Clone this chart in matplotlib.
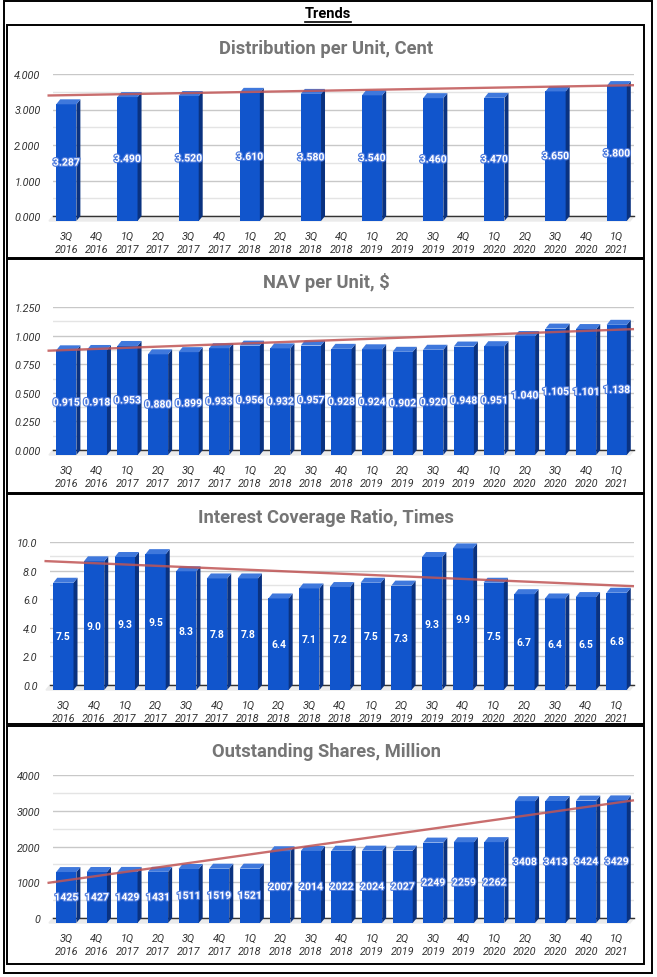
import matplotlib
matplotlib.use('Agg')
import matplotlib.pyplot as plt
import matplotlib.patheffects as pe
from matplotlib.patches import Polygon, Rectangle
import numpy as np

plt.rcParams['font.family'] = ['Roboto', 'DejaVu Sans']

# ---- data ----
quarters = ['3Q\n2016', '4Q\n2016', '1Q\n2017', '2Q\n2017', '3Q\n2017', '4Q\n2017',
            '1Q\n2018', '2Q\n2018', '3Q\n2018', '4Q\n2018', '1Q\n2019', '2Q\n2019',
            '3Q\n2019', '4Q\n2019', '1Q\n2020', '2Q\n2020', '3Q\n2020', '4Q\n2020',
            '1Q\n2021']

dpu_quarters = ['3Q\n2016', '1Q\n2017', '3Q\n2017', '1Q\n2018', '3Q\n2018',
                '1Q\n2019', '3Q\n2019', '1Q\n2020', '3Q\n2020', '1Q\n2021']
dpu = [3.287, 3.490, 3.520, 3.610, 3.580, 3.540, 3.460, 3.470, 3.650, 3.800]

nav = [0.915, 0.918, 0.953, 0.880, 0.899, 0.933, 0.956, 0.932, 0.957, 0.928,
       0.924, 0.902, 0.920, 0.948, 0.951, 1.040, 1.105, 1.101, 1.138]

icr = [7.5, 9.0, 9.3, 9.5, 8.3, 7.8, 7.8, 6.4, 7.1, 7.2,
       7.5, 7.3, 9.3, 9.9, 7.5, 6.7, 6.4, 6.5, 6.8]

shares = [1425, 1427, 1429, 1431, 1511, 1519, 1521, 2007, 2014, 2022,
          2024, 2027, 2249, 2259, 2262, 3408, 3413, 3424, 3429]

# ---- style ----
W, H = 657, 978
front_c = '#1155cc'
side_c = '#0a3280'
top_c = '#3f78dc'
trend_c = '#c05555'
title_c = '#757575'
bar_w = 0.66
right_px = 634

fig = plt.figure(figsize=(W / 100, H / 100), dpi=100)


def fx(px):
    return px / W


def fy(py):
    return 1 - py / H


def box(x0, y0, x1, y1, lw=1.4):
    fig.add_artist(Rectangle((fx(x0), fy(y1)), fx(x1 - x0), (y1 - y0) / H,
                             fill=False, edgecolor='black', linewidth=lw,
                             transform=fig.transFigure))


def draw_panel(title, title_y, box_y, left, top, bottom, xs, vals,
               ymax, major, fmt, halo):
    ax = fig.add_axes([fx(left), fy(bottom), fx(right_px - left), (bottom - top) / H])
    ax.set_xlim(-0.5, 18.5)
    ax.set_ylim(0, ymax)
    for s in ax.spines.values():
        s.set_visible(False)

    # gridlines, major + minor
    for y in np.arange(major / 2, ymax + 1e-9, major / 2):
        is_major = abs((y / major) - round(y / major)) < 1e-6
        ax.axhline(y, color='#c8c8c8' if is_major else '#e4e4e4', lw=1, zorder=0)

    # 3d offsets (px -> data)
    ox = 4 * 19 / (right_px - left)
    oy = 5 * ymax / (bottom - top)

    ax.add_patch(Polygon([(-0.5, 0), (18.5, 0), (18.5 - ox, -oy), (-0.5 - ox, -oy)],
                         closed=True, color='#ebebeb', clip_on=False, zorder=1))
    ax.plot([-0.5, 18.5], [0, 0], color='#333333', lw=1, zorder=1.5, clip_on=False)

    for x, v in zip(xs, vals):
        xb = x + ox / 2
        xl, xr = xb - bar_w / 2, xb + bar_w / 2
        ax.add_patch(Rectangle((xl - ox, -oy), bar_w, v, color=front_c,
                               clip_on=False, zorder=2, lw=0))
        ax.add_patch(Polygon([(xr - ox, -oy), (xr, 0), (xr, v), (xr - ox, v - oy)],
                             closed=True, color=side_c, clip_on=False, zorder=2, lw=0))
        ax.add_patch(Polygon([(xl - ox, v - oy), (xr - ox, v - oy), (xr, v), (xl, v)],
                             closed=True, color=top_c, clip_on=False, zorder=2, lw=0))
        t = ax.text(xb - ox, v / 2 - oy, fmt(v), color='white', ha='center',
                    va='center', fontsize=7.5, fontweight='bold', zorder=4)
        if halo:
            t.set_path_effects([pe.withStroke(linewidth=1.6, foreground='#4a78dc')])

    # linear trend line
    k, b = np.polyfit(xs, vals, 1)
    xt = np.array([-0.68, 18.5])
    ax.plot(xt, k * xt + b, color=trend_c, lw=1.7, alpha=0.85, zorder=3,
            clip_on=False, solid_capstyle='butt')

    yt = np.arange(0, ymax + 1e-9, major)
    ax.set_yticks(yt)
    ax.set_yticklabels([fmt(v) for v in yt], fontsize=7.8, style='italic', color='#333333')
    ax.set_xticks(np.arange(19) - ox / 2)
    ax.set_xticklabels(quarters, fontsize=7.8, style='italic', color='#333333',
                       linespacing=1.3)
    ax.tick_params(axis='y', length=0, pad=9)
    ax.tick_params(axis='x', length=0, pad=11)

    fig.text(fx(326), fy(title_y), title, ha='center', va='center',
             fontsize=13.2, fontweight='bold', color=title_c)
    box(7, box_y[0], 644, box_y[1])


idx = np.arange(19)
dpu_x = [quarters.index(q) for q in dpu_quarters]

draw_panel('Distribution per Unit, Cent', 49, (26, 259), 53, 75, 217,
           dpu_x, dpu, 4, 1, lambda v: '%.3f' % v, True)
draw_panel('NAV per Unit, $', 283, (260, 494), 53, 308, 451,
           idx, nav, 1.25, 0.25, lambda v: '%.3f' % v, True)
draw_panel('Interest Coverage Ratio, Times', 518, (495, 725), 50, 543, 686,
           idx, icr, 10, 2, lambda v: '%.1f' % v, False)
draw_panel('Outstanding Shares, Million', 752, (727, 965), 53, 776, 919,
           idx, shares, 4000, 1000, lambda v: '%d' % v, True)

# header
ht = fig.text(fx(328), fy(14), 'Trends', ha='center', va='center',
              fontsize=10.5, fontweight='bold', color='black')
fig.canvas.draw()
bb = ht.get_window_extent(fig.canvas.get_renderer()).transformed(fig.transFigure.inverted())
fig.add_artist(plt.Line2D([bb.x0, bb.x1], [fy(23), fy(23)], color='black', lw=1.2,
                          transform=fig.transFigure))
box(4, 2, 652, 974)

fig.savefig('out.png', dpi=100)
